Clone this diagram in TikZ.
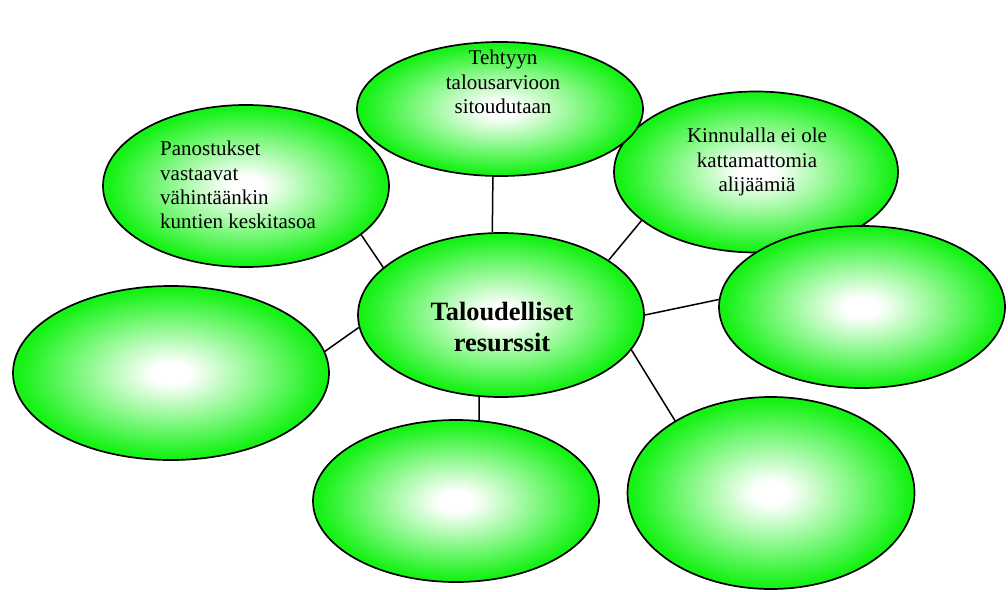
\documentclass[tikz,border=0pt]{standalone}
\usepackage{fontspec}
\setmainfont{Liberation Serif}
\usetikzlibrary{shapes.geometric}
\definecolor{ballg}{RGB}{22,242,22}
\pgfdeclareradialshading{greenball}{\pgfpoint{0bp}{0bp}}{color(0bp)=(white); color(3bp)=(white); color(24bp)=(ballg); color(50bp)=(ballg)}
\begin{document}
\begin{tikzpicture}[x=1pt,y=-1pt,
  bubble/.style={ellipse, draw=black, line width=1.7pt, shade, shading=greenball, inner sep=0pt},
  lbl/.style={inner sep=0pt, font=\fontsize{21}{24.3}\selectfont, text=black},
  mainlbl/.style={inner sep=0pt, font=\fontsize{26.4}{31}\selectfont\bfseries, text=black, align=center},
  link/.style={draw=black, line width=1.5pt}]
\useasboundingbox (0,0) rectangle (1008,591);
% ellipses
\node[bubble, minimum width=286pt, minimum height=164pt] (C) at (501,315) {};
\node[bubble, minimum width=286pt, minimum height=162pt] (TL) at (246,186) {};
\node[bubble, minimum width=284pt, minimum height=161pt] (TR) at (756,172) {};
\node[bubble, minimum width=286pt, minimum height=134pt] (T) at (500,109) {};
\node[bubble, minimum width=286pt, minimum height=162pt] (R) at (862,307) {};
\node[bubble, minimum width=316pt, minimum height=174pt] (L) at (171,373) {};
\node[bubble, minimum width=286pt, minimum height=162pt] (B) at (456,501) {};
\node[bubble, minimum width=287pt, minimum height=192pt] (BR) at (771,493) {};
% texts
\node[mainlbl] (tC) at (502,327) {Taloudelliset\\resurssit};
\node[lbl, align=center] (tT) at (503,82) {Tehtyyn\\talousarvioon\\sitoudutaan};
\node[lbl, align=center] (tTR) at (757,162) {Kinnulalla ei ole\\kattamattomia\\alijäämiä};
\node[lbl, align=left, anchor=west] (tTL) at (160,185) {Panostukset\\vastaavat\\vähintäänkin\\kuntien keskitasoa};
% connectors
\draw[link] (C.185) -- (L.8.6);
\draw[link] (C.158) -- (TL.337);
\draw[link] (C.96) -- (T.264);
\draw[link] (C.27) -- (TR.203);
\draw[link] (C.0) -- (R.177);
\draw[link] (C.255) -- (B.74);
\draw[link] (C.345) -- (BR.143);
\end{tikzpicture}
\end{document}
